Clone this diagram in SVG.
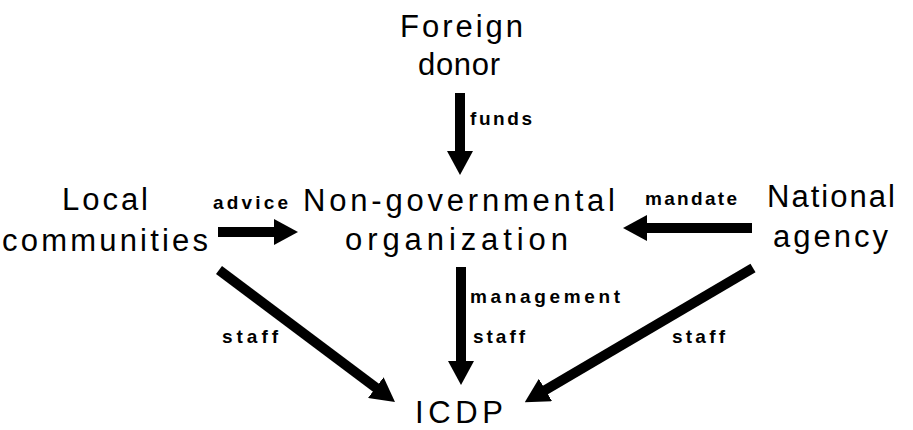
<svg xmlns="http://www.w3.org/2000/svg" width="913" height="430" viewBox="0 0 913 430">
  <style>
    .node { font-family: "Liberation Sans", Arial, sans-serif; font-size: 31px; fill: #000; }
    .lbl { font-family: "Liberation Sans", Arial, sans-serif; font-size: 19px; font-weight: bold; fill: #000; }
    .edge { stroke: #000; stroke-width: 10; fill: none; marker-end: url(#head); }
  </style>
  <defs>
    <marker id="head" markerUnits="userSpaceOnUse" viewBox="0 0 24 26" refX="4" refY="13" markerWidth="24" markerHeight="26" orient="auto">
      <path d="M0,0 L24,13 L0,26 Z" fill="#000"/>
    </marker>
  </defs>
  <rect width="913" height="430" fill="#fff"/>

  <g id="connectors">
    <line class="edge" x1="460" y1="93" x2="460" y2="155"/>
    <line class="edge" x1="218" y1="232" x2="278" y2="232"/>
    <line class="edge" x1="752" y1="228" x2="643" y2="228"/>
    <line class="edge" x1="461" y1="267" x2="461" y2="365"/>
    <line class="edge" x1="219" y1="270" x2="379" y2="390"/>
    <line class="edge" x1="753" y1="268" x2="542" y2="392"/>
    <text class="lbl" x="470" y="125" textLength="62" lengthAdjust="spacing">funds</text>
    <text class="lbl" x="213" y="209" textLength="75" lengthAdjust="spacing">advice</text>
    <text class="lbl" x="645" y="205" textLength="92" lengthAdjust="spacing">mandate</text>
    <text class="lbl" x="470" y="303" textLength="150" lengthAdjust="spacing">management</text>
    <text class="lbl" x="473" y="343" textLength="52" lengthAdjust="spacing">staff</text>
    <text class="lbl" x="222" y="343" textLength="56" lengthAdjust="spacing">staff</text>
    <text class="lbl" x="672" y="343" textLength="53" lengthAdjust="spacing">staff</text>
  </g>

  <g id="foreign-donor">
    <text class="node" x="400" y="37" textLength="123" lengthAdjust="spacing">Foreign</text>
    <text class="node" x="418" y="75" textLength="82" lengthAdjust="spacing">donor</text>
  </g>
  <g id="ngo">
    <text class="node" x="303" y="211" textLength="312" lengthAdjust="spacing">Non-governmental</text>
    <text class="node" x="345" y="250" textLength="223" lengthAdjust="spacing">organization</text>
  </g>
  <g id="local-communities">
    <text class="node" x="62" y="210" textLength="86" lengthAdjust="spacing">Local</text>
    <text class="node" x="2" y="251" textLength="206" lengthAdjust="spacing">communities</text>
  </g>
  <g id="national-agency">
    <text class="node" x="767" y="207" textLength="128" lengthAdjust="spacing">National</text>
    <text class="node" x="773" y="247" textLength="115" lengthAdjust="spacing">agency</text>
  </g>
  <g id="icdp">
    <text class="node" x="415" y="423" font-size="29" textLength="88" lengthAdjust="spacing">ICDP</text>
  </g>
</svg>
